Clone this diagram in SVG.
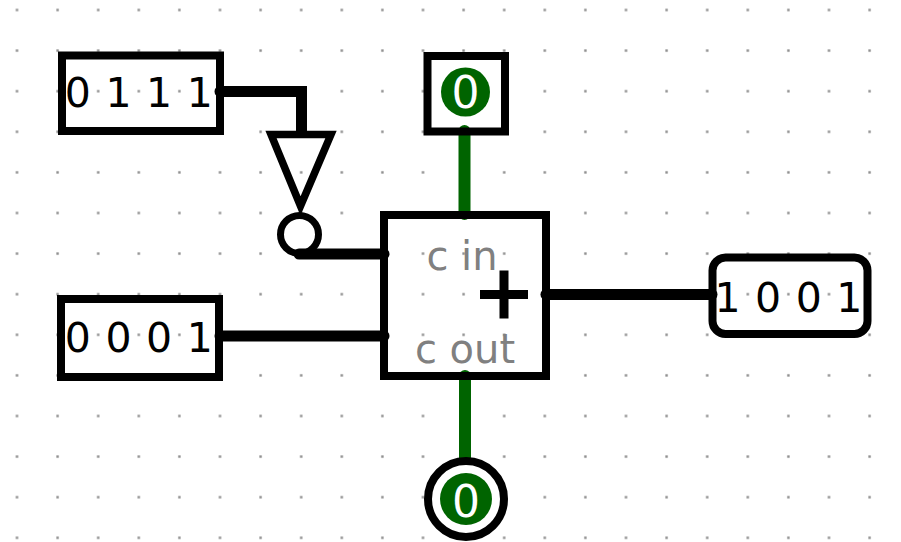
<svg xmlns="http://www.w3.org/2000/svg" width="901" height="542" viewBox="0 0 901 542">
<defs>
<pattern id="grid" x="-3.3" y="-10.3" width="40.6" height="40.6" patternUnits="userSpaceOnUse">
<rect x="19.1" y="19.1" width="2.4" height="2.4" fill="#8a8a8a"/>
</pattern>
<style>
.box{fill:none;stroke:#000;stroke-width:8}
.wire{fill:none;stroke:#000;stroke-width:11;stroke-linecap:round;stroke-linejoin:miter}
.gwire{fill:none;stroke:#006400;stroke-width:12;stroke-linecap:round}
.val{font-family:"DejaVu Sans","Liberation Sans",sans-serif;font-size:41px;fill:#000;text-anchor:middle}
.lbl{font-family:"DejaVu Sans","Liberation Sans",sans-serif;font-size:40px;fill:#808080;text-anchor:middle}
.cval{font-family:"DejaVu Sans","Liberation Sans",sans-serif;font-size:44px;fill:#fff;text-anchor:middle}
</style>
</defs>
<rect width="901" height="542" fill="#fff"/>
<rect width="901" height="542" fill="url(#grid)"/>
<g id="connectors">
<polyline class="wire" points="220,91.5 301.5,91.5 301.5,131"/>
<polyline class="wire" points="299,254 384,254"/>
<polyline class="wire" points="220,336 384,336"/>
<polyline class="wire" points="546,294.5 712,294.5"/>
<line class="gwire" x1="464.5" y1="131" x2="464.5" y2="214"/>
<line class="gwire" x1="465" y1="376" x2="465" y2="459"/>
</g>
<g id="in_0111">
<rect class="box" x="62" y="55.5" width="158" height="75.5"/>
<text class="val" x="77.9 118.5 159.1 199.7" y="107">0111</text>
</g>
<g id="in_0001">
<rect class="box" x="61" y="299" width="158" height="78"/>
<text class="val" x="77.9 118.5 159.1 199.7" y="352">0001</text>
</g>
<g id="not_gate">
<polygon points="271,134.5 331,134.5 300.5,206" fill="none" stroke="#000" stroke-width="7.5" stroke-linejoin="miter"/>
<circle cx="299.5" cy="234.5" r="19" fill="none" stroke="#000" stroke-width="7"/>
</g>
<g id="adder">
<rect class="box" x="384" y="215" width="162" height="161"/>
<text class="lbl" x="462" y="270">c in</text>
<text class="lbl" x="465" y="363">c out</text>
<path d="M480,294.5H528M504,270.5V318.5" stroke="#000" stroke-width="9" fill="none"/>
</g>
<g id="const_0">
<rect class="box" x="427.5" y="56" width="77.5" height="75.5"/>
<circle cx="465.5" cy="92" r="24.5" fill="#006400"/>
<text class="cval" x="465.5" y="108">0</text>
</g>
<g id="out_1001">
<rect class="box" x="712.5" y="257.5" width="155" height="76.5" rx="13" ry="13"/>
<text class="val" x="727.5 768.1 808.7 849.3" y="312">1001</text>
</g>
<g id="out_cout">
<circle cx="466" cy="499" r="38" fill="none" stroke="#000" stroke-width="8"/>
<circle cx="466" cy="499" r="26" fill="#006400"/>
<text class="cval" x="466" y="517">0</text>
</g>
</svg>
